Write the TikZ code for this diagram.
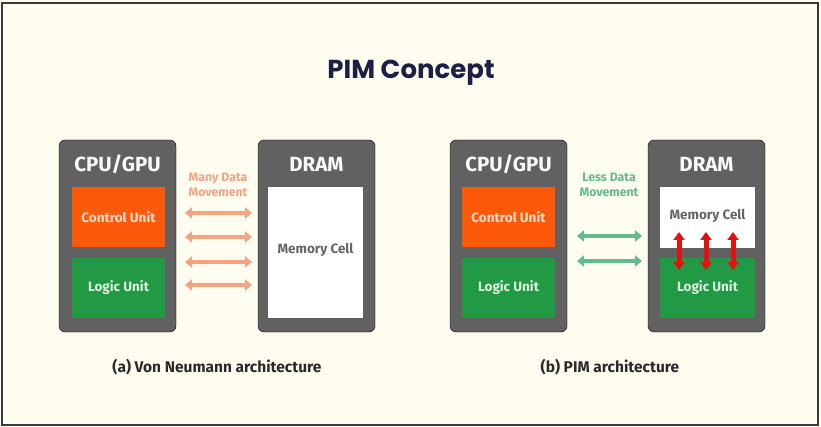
\documentclass[tikz,border=0pt]{standalone}
\usepackage{fontspec}
\setmainfont{Fira Sans}
\newfontfamily\poppins{Poppins}
\usetikzlibrary{arrows.meta}
\definecolor{bgc}{HTML}{FFFCF0}
\definecolor{framec}{HTML}{3A3A3A}
\definecolor{boxgray}{HTML}{616161}
\definecolor{ctrlc}{HTML}{FC5A0A}
\definecolor{logicc}{HTML}{229A45}
\definecolor{ctrltxt}{HTML}{FFD9C4}
\definecolor{logictxt}{HTML}{DDF2DD}
\definecolor{memtxt}{HTML}{666666}
\definecolor{salmon}{HTML}{F5A383}
\definecolor{mint}{HTML}{62BA8E}
\definecolor{redarr}{HTML}{E31212}
\definecolor{titlec}{HTML}{1C2045}
\definecolor{capc}{HTML}{2A2A2A}
\tikzset{
  outerbox/.style={fill=boxgray, rounded corners=6pt},
  ctrlbox/.style={fill=ctrlc},
  logicbox/.style={fill=logicc},
  membox/.style={fill=white},
  headtxt/.style={font=\fontsize{20.5}{22}\selectfont\bfseries, text=white!95!gray},
  ctrllab/.style={font=\fontsize{13.5}{15}\selectfont\bfseries, text=ctrltxt},
  logiclab/.style={font=\fontsize{13.5}{15}\selectfont\bfseries, text=logictxt},
  memlab/.style={font=\fontsize{13.5}{15}\selectfont\bfseries, text=memtxt},
  movelab/.style={font=\fontsize{12.3}{15}\selectfont\bfseries, align=center, inner sep=0pt},
  salmonarrow/.style={salmon, line width=4.5pt, {Triangle[width=11pt,length=7pt]}-{Triangle[width=11pt,length=7pt]}},
  mintarrow/.style={mint, line width=4.5pt, {Triangle[width=11pt,length=7pt]}-{Triangle[width=11pt,length=7pt]}},
  redarrow/.style={redarr, line width=5pt, {Triangle[width=11pt,length=8pt]}-{Triangle[width=11pt,length=8pt]}},
  captxt/.style={font=\fontsize{15.5}{17}\selectfont\bfseries, text=capc}
}
\begin{document}
\begin{tikzpicture}[x=1pt,y=-1pt]
\useasboundingbox (0,0) rectangle (821,427);
\fill[bgc] (0,0) rectangle (821,427);
\draw[framec, line width=1.5pt] (2,3) rectangle (818,425);

\node[font=\poppins\fontsize{26}{28}\selectfont\bfseries, text=titlec] (title) at (411,73) {PIM Concept};

% ---------- (a) Von Neumann ----------
\draw[outerbox] (59,140) rectangle (176,332);
\node[headtxt] (cpuA) at (117.5,164) {CPU/GPU};
\fill[ctrlbox] (72,187) rectangle (165,247);
\node[ctrllab] (ctrlA) at (118.5,217) {Control Unit};
\fill[logicbox] (72,258) rectangle (165,318);
\node[logiclab] (logicA) at (118.5,288) {Logic Unit};

\draw[outerbox] (258,140) rectangle (375,332);
\node[headtxt] (dramA) at (316.5,164) {DRAM};
\fill[membox] (268,187) rectangle (363,318);
\node[memlab] (memA) at (315.5,250) {Memory Cell};

\node[movelab, text=salmon] (moveA) at (218,185) {Many Data\\Movement};
\foreach \i/\y in {1/213,2/237,3/262,4/285}{
  \coordinate (al\i) at (185,\y);
  \coordinate (ar\i) at (252,\y);
  \draw[salmonarrow] (al\i) -- (ar\i);
}

% ---------- (b) PIM ----------
\draw[outerbox] (450,140) rectangle (567,332);
\node[headtxt] (cpuB) at (508.5,164) {CPU/GPU};
\fill[ctrlbox] (462,187) rectangle (555,247);
\node[ctrllab] (ctrlB) at (508.5,217) {Control Unit};
\fill[logicbox] (462,258) rectangle (555,318);
\node[logiclab] (logicB) at (508.5,288) {Logic Unit};

\draw[outerbox] (648,140) rectangle (765,332);
\node[headtxt] (dramB) at (706.5,164) {DRAM};
\fill[membox] (660,187) rectangle (755,248);
\node[memlab] (memB) at (707.5,216) {Memory Cell};
\fill[logicbox] (660,258) rectangle (755,318);
\node[logiclab] (logicB2) at (707.5,288) {Logic Unit};

\node[movelab, text=mint] (moveB) at (609,185) {Less Data\\Movement};
\foreach \i/\y in {1/236,2/261}{
  \coordinate (bl\i) at (577,\y);
  \coordinate (br\i) at (642,\y);
  \draw[mintarrow] (bl\i) -- (br\i);
}
\foreach \i/\x in {1/679,2/706,3/733}{
  \coordinate (rt\i) at (\x,232);
  \coordinate (rb\i) at (\x,270);
  \draw[redarrow] (rt\i) -- (rb\i);
}

\node[captxt] (capA) at (217,367) {(a) Von Neumann architecture};
\node[captxt] (capB) at (610,367) {(b) PIM architecture};
\end{tikzpicture}
\end{document}
